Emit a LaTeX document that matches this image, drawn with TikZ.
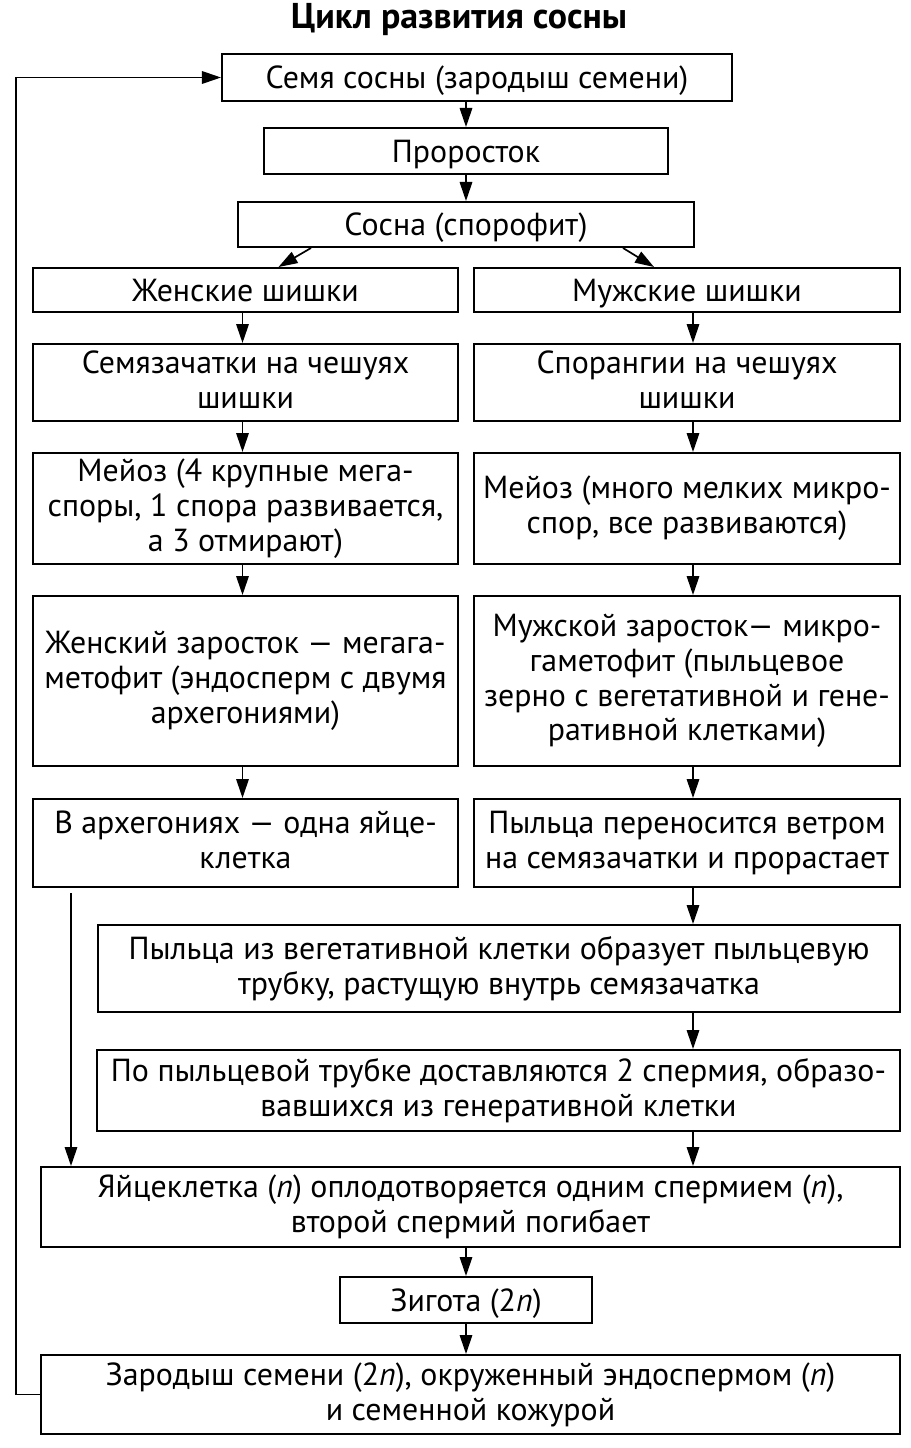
\documentclass[tikz,border=0pt]{standalone}
\usepackage{fontspec}
\setmainfont{PT Sans}
\usetikzlibrary{arrows.meta}
\newcommand\boxstrut{\rule[-6bp]{0pt}{35bp}}
\tikzset{
  box/.style={draw, line width=2bp, inner sep=0pt, align=center, font=\fontsize{32}{35}\selectfont,
    execute at begin node=\boxstrut, execute at end node=\boxstrut},
  arr/.style={line width=1.7bp, -{Triangle[length=19bp,width=12.5bp]}},
  ttl/.style={font=\fontsize{36}{40}\selectfont\bfseries}
}
\begin{document}
\begin{tikzpicture}[x=1bp,y=-1bp]
\useasboundingbox (0,0) rectangle (910,1448);
\node[ttl] (title) at (459,20) {Цикл развития сосны};
\node[box, minimum width=510bp, minimum height=47bp] (b1) at (477,77.5) {Семя сосны (зародыш семени)};
\node[box, minimum width=404bp, minimum height=46bp] (b2) at (466,151) {Проросток};
\node[box, minimum width=456bp, minimum height=45bp] (b3) at (466,224.5) {Сосна (спорофит)};
\node[box, minimum width=425bp, minimum height=44bp] (b4) at (245.5,290) {Женские шишки};
\node[box, minimum width=426bp, minimum height=44bp] (b5) at (687,290) {Мужские шишки};
\node[box, minimum width=425bp, minimum height=77bp] (b6) at (245.5,382.5) {Семязачатки на чешуях\\шишки};
\node[box, minimum width=426bp, minimum height=77bp] (b7) at (687,382.5) {Спорангии на чешуях\\шишки};
\node[box, minimum width=425bp, minimum height=111bp] (b8) at (245.5,508.5) {Мейоз (4 крупные мега-\\споры, 1 спора развивается,\\а 3 отмирают)};
\node[box, minimum width=426bp, minimum height=111bp] (b9) at (687,508.5) {Мейоз (много мелких микро-\\спор, все развиваются)};
\node[box, minimum width=425bp, minimum height=170bp] (b10) at (245.5,681) {Женский заросток — мегага-\\метофит (эндосперм с двумя\\архегониями)};
\node[box, minimum width=426bp, minimum height=170bp] (b11) at (687,681) {Мужской заросток— микро-\\гаметофит (пыльцевое\\зерно с вегетативной и гене-\\ративной клетками)};
\node[box, minimum width=425bp, minimum height=88bp] (b12) at (245.5,843) {В архегониях — одна яйце-\\клетка};
\node[box, minimum width=426bp, minimum height=88bp] (b13) at (687,843) {Пыльца переносится ветром\\на семязачатки и прорастает};
\node[box, minimum width=802bp, minimum height=87bp] (b14) at (499,968.5) {Пыльца из вегетативной клетки образует пыльцевую\\трубку, растущую внутрь семязачатка};
\node[box, minimum width=803bp, minimum height=81bp] (b15) at (498.5,1090.5) {По пыльцевой трубке доставляются 2 спермия, образо-\\вавшихся из генеративной клетки};
\node[box, minimum width=859bp, minimum height=80bp] (b16) at (470.5,1207) {Яйцеклетка (\textit{n}) оплодотворяется одним спермием (\textit{n}),\\второй спермий погибает};
\node[box, minimum width=252bp, minimum height=46bp] (b17) at (466,1300) {Зигота (2\textit{n})};
\node[box, minimum width=859bp, minimum height=79bp] (b18) at (470.5,1394.5) {Зародыш семени (2\textit{n}), окруженный эндоспермом (\textit{n})\\и семенной кожурой};
% center chain
\draw[arr] (b1.south -| b2) -- (b2.north);
\draw[arr] (b2.south) -- (b3.north);
\draw[arr] ([xshift=-155bp]b3.south) -- ([xshift=33bp]b4.north);
\draw[arr] ([xshift=157bp]b3.south) -- ([xshift=-33bp]b5.north);
% left column
\draw[arr] ([xshift=-3bp]b4.south) -- ([xshift=-3bp]b6.north);
\draw[arr] ([xshift=-3bp]b6.south) -- ([xshift=-3bp]b8.north);
\draw[arr] ([xshift=-3bp]b8.south) -- ([xshift=-3bp]b10.north);
\draw[arr] ([xshift=-3bp]b10.south) -- ([xshift=-3bp]b12.north);
% right column
\draw[arr] ([xshift=6bp]b5.south) -- ([xshift=6bp]b7.north);
\draw[arr] ([xshift=6bp]b7.south) -- ([xshift=6bp]b9.north);
\draw[arr] ([xshift=6bp]b9.south) -- ([xshift=6bp]b11.north);
\draw[arr] ([xshift=6bp]b11.south) -- ([xshift=6bp]b13.north);
\draw[arr] ([xshift=6bp]b13.south) -- ([xshift=6bp]b13.south |- b14.north);
\draw[arr] ([xshift=6bp]b13.south |- b14.south) -- ([xshift=6bp]b13.south |- b15.north);
\draw[arr] ([xshift=6bp]b13.south |- b15.south) -- ([xshift=6bp]b13.south |- b16.north);
% egg cell to fertilisation
\coordinate (eggstart) at ([xshift=39bp,yshift=-5bp]b12.south west);
\draw[arr] (eggstart) -- (eggstart |- b16.north);
% bottom chain
\draw[arr] (b16.south -| b17) -- (b17.north);
\draw[arr] (b17.south) -- (b18.north -| b17);
% feedback loop
\draw[arr] (b18.west) -- ++(-24,0) |- (b1.west);
\end{tikzpicture}
\end{document}
